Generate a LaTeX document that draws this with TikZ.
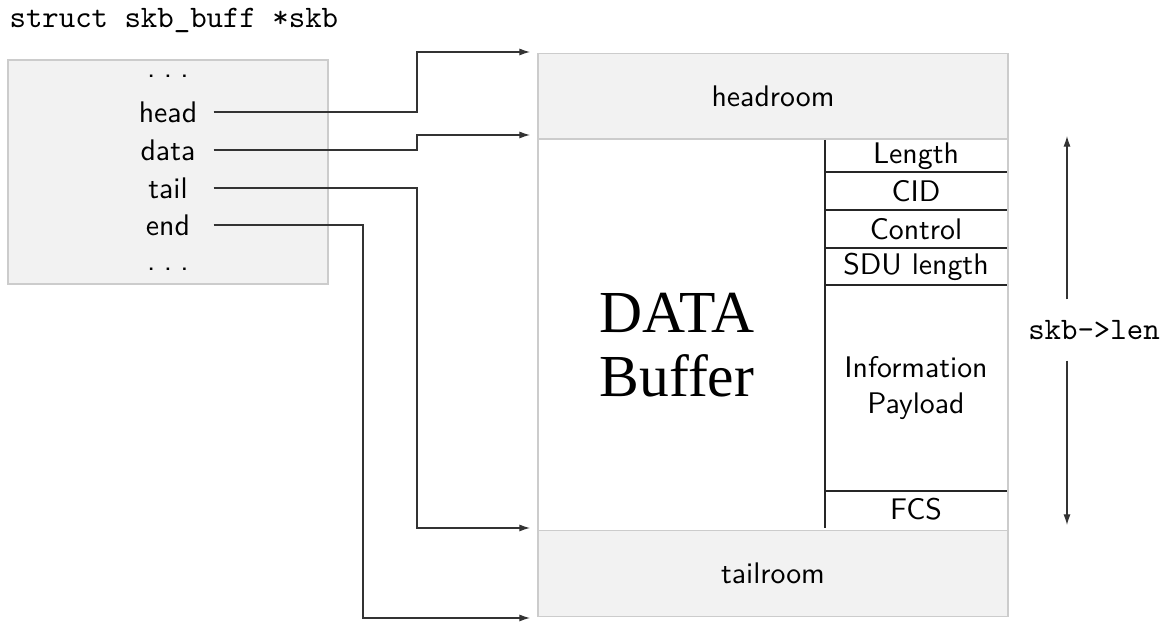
\documentclass[tikz,border=0pt]{standalone}
\usepackage{fontspec}
\newfontfamily\bufserif{Liberation Serif}
\usetikzlibrary{arrows.meta}
\newcommand{\skbdots}{.\hspace{.28em}.\hspace{.28em}.}

\begin{document}
\begin{tikzpicture}
  [x=0.3356pt, y=-0.3356pt,
   font=\sffamily,
   every node/.style={inner sep=0pt},
   box/.style={draw=gray!40, fill=gray!10},
   room/.style={box, minimum width=157.7pt, minimum height=28.7pt},
   field/.style={minimum width=30.2pt},
   ptr/.style={draw=black!80, -{Latex[length=3.6pt,width=2.4pt]}},
   rowline/.style={draw=black!85},
   code/.style={font=\fontsize{10.5}{12}\selectfont\ttfamily}]
  \useasboundingbox (0,0) rectangle (1165,622);
  %struct skb_buff
  \node [code, anchor=base west] (title) at (9,28) {struct skb\_buff *skb};
  \node [box, minimum width=107.4pt, minimum height=75.2pt] (skb) at (168,172) {};
  \node [anchor=base] (dotstop) at (168,78) {\skbdots};
  \node [field] (skbhead) at (168,112) {head};
  \node [field] (skbdata) at (168,150) {data};
  \node [field] (skbtail) at (168,188) {tail};
  \node [field] (skbend) at (168,225) {end};
  \node [anchor=base] (dotsbot) at (168,271) {\skbdots};
  %Puffer
  \node [draw=gray!40, minimum width=157.7pt, minimum height=131.6pt] (databuf) at (773,335) {};
  \node [room] (headroom) at (773,96) {headroom};
  \node [room] (tailroom) at (773,573.5) {tailroom};
  \node [font=\bufserif\fontsize{20}{21.5}\selectfont, align=center] (bufname) at (677,345) {DATA\\Buffer};
  %Rahmenfelder
  \draw [rowline] (825,140) -- (825,528);
  \foreach \y in {172,210,248,285,491}
    \draw [rowline] (825,\y) -- (1007,\y);
  \foreach \y/\name/\txt in {156/flen/Length, 191/fcid/CID, 229/fctl/Control, 266.5/fsdu/SDU length, 509.5/ffcs/FCS}
    \node (\name) at (916,\y) {\txt};
  \node [align=center] (fpay) at (916,388) {Information\\Payload};
  %Zeiger
  \coordinate (headptr) at (530,52);
  \coordinate (dataptr) at (530,135);
  \coordinate (tailptr) at (530,528);
  \coordinate (endptr) at (530,618);
  \coordinate (bendhd) at (417,0);
  \coordinate (bendend) at (363,0);
  \draw [ptr] (skbhead.east) -| (bendhd |- headptr) -- (headptr);
  \draw [ptr] (skbdata.east) -| (bendhd |- dataptr) -- (dataptr);
  \draw [ptr] (skbtail.east) -| (bendhd |- tailptr) -- (tailptr);
  \draw [ptr] (skbend.east) -| (bendend |- endptr) -- (endptr);
  %Laenge
  \node [code, minimum height=20.1pt] (len) at (1094,330) {skb->len};
  \coordinate (lentop) at (1067,136);
  \coordinate (lenbot) at (1067,525);
  \draw [ptr] (len.north -| lentop) -- (lentop);
  \draw [ptr] (len.south -| lenbot) -- (lenbot);
\end{tikzpicture}
\end{document}
